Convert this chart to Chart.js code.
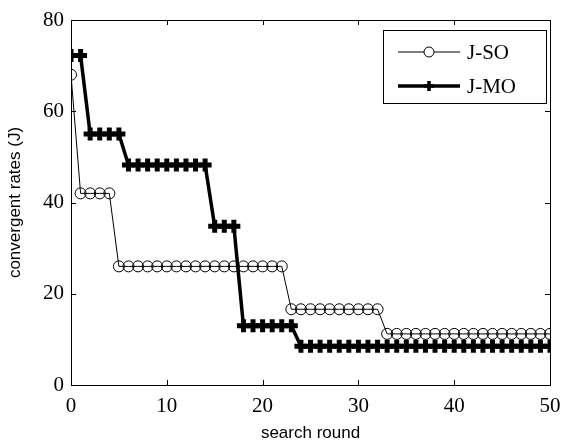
<!DOCTYPE html>
<html lang="en">
<head>
<meta charset="UTF-8">
<title>convergent rates</title>
<style>
  html, body { margin: 0; padding: 0; background: #fff; }
  #wrap { width: 564px; height: 444px; }
</style>
</head>
<body>
<div id="wrap"><canvas id="myChart" width="564" height="444"></canvas></div>

<script src="https://cdnjs.cloudflare.com/ajax/libs/Chart.js/4.4.1/chart.umd.js"></script>
<script>
// search rounds (x)
var rounds = [0, 1, 2, 3, 4, 5, 6, 7, 8, 9, 10, 11, 12, 13, 14, 15, 16, 17, 18, 19, 20,
  21, 22, 23, 24, 25, 26, 27, 28, 29, 30, 31, 32, 33, 34, 35, 36, 37, 38, 39, 40,
  41, 42, 43, 44, 45, 46, 47, 48, 49, 50];

var jSO = [68, 42, 42, 42, 42, 26, 26, 26, 26, 26, 26, 26, 26, 26, 26, 26, 26, 26, 26, 26, 26,
  26, 26, 16.6, 16.6, 16.6, 16.6, 16.6, 16.6, 16.6, 16.6, 16.6, 16.6, 11.2, 11.2, 11.2, 11.2, 11.2, 11.2, 11.2, 11.2,
  11.2, 11.2, 11.2, 11.2, 11.2, 11.2, 11.2, 11.2, 11.2, 11.2];

var jMO = [72.2, 72.2, 55, 55, 55, 55, 48.2, 48.2, 48.2, 48.2, 48.2, 48.2, 48.2, 48.2, 48.2, 34.8, 34.8, 34.8, 13, 13, 13,
  13, 13, 13, 8.5, 8.5, 8.5, 8.5, 8.5, 8.5, 8.5, 8.5, 8.5, 8.5, 8.5, 8.5, 8.5, 8.5, 8.5, 8.5, 8.5,
  8.5, 8.5, 8.5, 8.5, 8.5, 8.5, 8.5, 8.5, 8.5, 8.5];

var seriesNames = ['J-SO', 'J-MO'];
var xTicks = [0, 10, 20, 30, 40, 50];
var yTicks = [0, 20, 40, 60, 80];

function toPoints(ys) {
  return rounds.map(function (x, i) { return { x: x, y: ys[i] }; });
}

// frame, inward ticks and legend box drawn on top
var framePlugin = {
  id: 'frame',
  afterDraw: function (chart) {
    var ctx = chart.ctx, a = chart.chartArea;
    var xs = chart.scales.x, ys = chart.scales.y;
    ctx.save();
    ctx.strokeStyle = '#000';
    ctx.lineWidth = 1;
    ctx.strokeRect(a.left + 0.5, a.top + 0.5, a.right - a.left, a.bottom - a.top);
    ctx.beginPath();
    xTicks.forEach(function (v) {
      var px = Math.round(xs.getPixelForValue(v)) + 0.5;
      ctx.moveTo(px, a.bottom); ctx.lineTo(px, a.bottom - 5);
      ctx.moveTo(px, a.top); ctx.lineTo(px, a.top + 5);
    });
    yTicks.forEach(function (v) {
      var py = Math.round(ys.getPixelForValue(v)) + 0.5;
      ctx.moveTo(a.left, py); ctx.lineTo(a.left + 5, py);
      ctx.moveTo(a.right, py); ctx.lineTo(a.right - 5, py);
    });
    ctx.stroke();

    // legend
    var bx = 383.5, by = 30.5, bw = 163, bh = 73;
    ctx.fillStyle = '#fff';
    ctx.fillRect(bx, by, bw, bh);
    ctx.strokeRect(bx, by, bw, bh);
    var rows = [52, 86];
    var legendRadius = [5, 5];
    ctx.font = '21px "Liberation Serif"';
    ctx.textBaseline = 'middle';
    ctx.textAlign = 'left';
    chart.data.datasets.forEach(function (ds, i) {
      var y = rows[i];
      ctx.beginPath();
      ctx.lineWidth = ds.borderWidth;
      ctx.strokeStyle = '#000';
      ctx.moveTo(398, y); ctx.lineTo(460, y);
      ctx.stroke();
      ctx.fillStyle = i === 0 ? '#fff' : '#000';
      Chart.helpers.drawPoint(ctx, {
        pointStyle: ds.pointStyle, radius: legendRadius[i],
        borderWidth: ds.pointBorderWidth, rotation: 0
      }, 429, y);
      ctx.fillStyle = '#000';
      ctx.fillText(ds.label, 467, y + 1);
    });
    ctx.restore();
  }
};

document.addEventListener('DOMContentLoaded', function () {
  var ctx = document.getElementById('myChart').getContext('2d');
  new Chart(ctx, {
    type: 'line',
    data: {
      datasets: [
        {
          label: seriesNames[0],
          data: toPoints(jSO),
          borderColor: '#000',
          borderWidth: 1,
          pointStyle: 'circle',
          pointRadius: 5.5,
          pointBorderWidth: 1,
          pointBackgroundColor: 'rgba(0,0,0,0)',
          pointBorderColor: '#000',
          fill: false,
          tension: 0
        },
        {
          label: seriesNames[1],
          data: toPoints(jMO),
          borderColor: '#000',
          borderWidth: 3.5,
          pointStyle: 'cross',
          pointRadius: 6.5,
          pointBorderWidth: 5,
          pointBackgroundColor: '#000',
          pointBorderColor: '#000',
          fill: false,
          tension: 0
        }
      ]
    },
    options: {
      responsive: false,
      animation: false,
      layout: { padding: { left: 0, right: 14, top: 20, bottom: 0 } },
      plugins: { legend: { display: false }, tooltip: { enabled: false } },
      scales: {
        x: {
          type: 'linear',
          min: 0, max: 50,
          afterBuildTicks: function (s) { s.ticks = xTicks.map(function (v) { return { value: v }; }); },
          afterFit: function (s) { s.height = 59; s.paddingRight = 0; s.paddingLeft = 0; },
          grid: { display: false, drawTicks: false },
          border: { display: false },
          ticks: { color: '#000', padding: 9, maxRotation: 0, font: { family: 'Liberation Serif', size: 21 } },
          title: { display: true, text: 'search round', color: '#000', padding: { top: 0, bottom: 0.5 },
            font: { family: 'Liberation Sans', size: 17 } }
        },
        y: {
          min: 0, max: 80,
          afterBuildTicks: function (s) { s.ticks = yTicks.map(function (v) { return { value: v }; }); },
          afterFit: function (s) { s.width = 71; s.paddingTop = 0; s.paddingBottom = 0; },
          grid: { display: false, drawTicks: false },
          border: { display: false },
          ticks: { color: '#000', padding: 7, font: { family: 'Liberation Serif', size: 21 } },
          title: { display: true, text: 'convergent rates (J)', color: '#000', padding: { top: 5, bottom: 0 },
            font: { family: 'Liberation Sans', size: 17 } }
        }
      }
    },
    plugins: [framePlugin]
  });
});
</script>
</body>
</html>
